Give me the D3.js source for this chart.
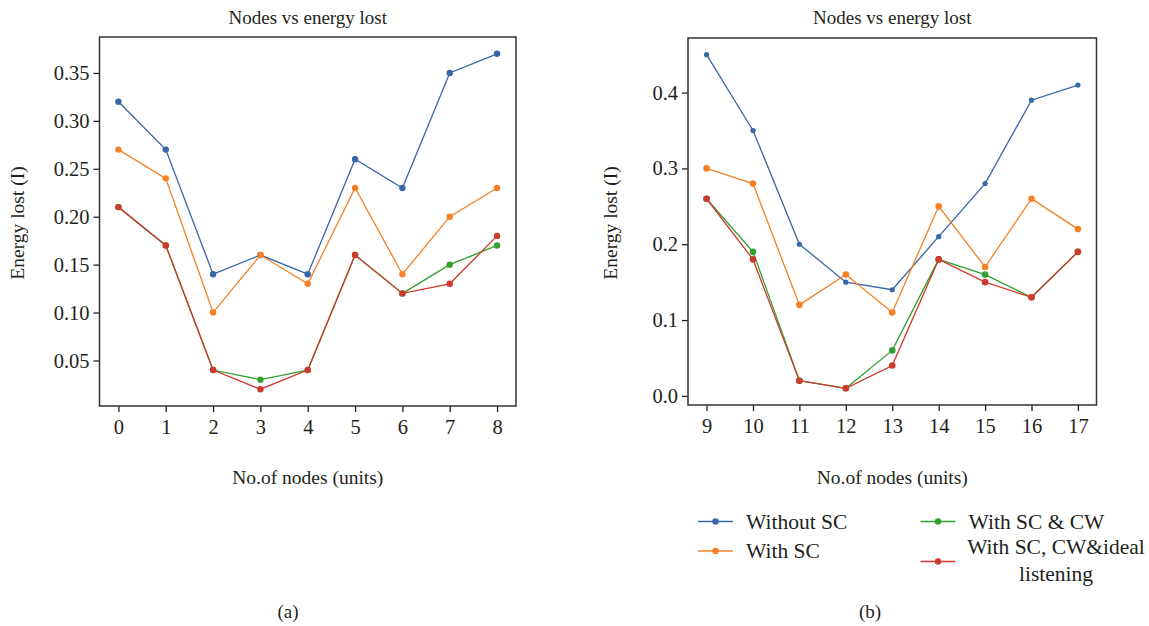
<!DOCTYPE html>
<html>
<head>
<meta charset="utf-8">
<script src="https://cdn.jsdelivr.net/npm/d3@7"></script>
<style>
  body { margin: 0; background: #fff; }
  text { font-family: "Liberation Serif", "DejaVu Serif", serif; fill: #231f20; }
</style>
</head>
<body>
<div id="chart"></div>
<script>
// Data
var nodesA = [0, 1, 2, 3, 4, 5, 6, 7, 8];
var nodesB = [9, 10, 11, 12, 13, 14, 15, 16, 17];

var withoutScA   = [0.32, 0.27, 0.14, 0.16, 0.14, 0.26, 0.23, 0.35, 0.37];
var withScA      = [0.27, 0.24, 0.10, 0.16, 0.13, 0.23, 0.14, 0.20, 0.23];
var withScCwA    = [0.21, 0.17, 0.04, 0.03, 0.04, 0.16, 0.12, 0.15, 0.17];
var withScCwIdA  = [0.21, 0.17, 0.04, 0.02, 0.04, 0.16, 0.12, 0.13, 0.18];

var withoutScB   = [0.45, 0.35, 0.20, 0.15, 0.14, 0.21, 0.28, 0.39, 0.41];
var withScB      = [0.30, 0.28, 0.12, 0.16, 0.11, 0.25, 0.17, 0.26, 0.22];
var withScCwB    = [0.26, 0.19, 0.02, 0.01, 0.06, 0.18, 0.16, 0.13, 0.19];
var withScCwIdB  = [0.26, 0.18, 0.02, 0.01, 0.04, 0.18, 0.15, 0.13, 0.19];

var yTicksA = [0.05, 0.10, 0.15, 0.20, 0.25, 0.30, 0.35];
var yTicksB = [0.0, 0.1, 0.2, 0.3, 0.4];

var seriesNames = ["Without SC", "With SC", "With SC & CW", "With SC, CW&ideal listening"];
var colors = ["#3767a6", "#f58025", "#33a02f", "#d0392d"];

var W = 1149, H = 626;
var svg = d3.select("#chart").append("svg")
    .attr("width", W)
    .attr("height", H);

function drawPanel(opts) {
    var x = d3.scaleLinear().domain(opts.xDomain).range([opts.left, opts.right]);
    var y = d3.scaleLinear().domain(opts.yDomain).range([opts.bottom, opts.top]);
    var g = svg.append("g");

    // x axis
    var xAxis = d3.axisBottom(x).tickValues(opts.nodes).tickFormat(d3.format("d"))
        .tickSize(6).tickPadding(5);
    var gx = g.append("g")
        .attr("transform", "translate(0," + opts.bottom + ")")
        .call(xAxis);
    gx.select(".domain").remove();

    var yAxis = d3.axisLeft(y).tickValues(opts.yTicks).tickFormat(d3.format(opts.yFmt))
        .tickSize(6).tickPadding(4);
    var gy = g.append("g")
        .attr("transform", "translate(" + opts.left + ",0)")
        .call(yAxis);
    gy.select(".domain").remove();

    g.selectAll(".tick line").attr("stroke", "#231f20").attr("stroke-width", 1.3);
    g.selectAll(".tick text").style("font-size", "20.5px").attr("fill", "#231f20");
    gx.selectAll(".tick text").attr("dy", "0.85em");

    // frame
    g.append("rect")
        .attr("x", opts.left).attr("y", opts.top)
        .attr("width", opts.right - opts.left)
        .attr("height", opts.bottom - opts.top)
        .attr("fill", "none")
        .attr("stroke", "#333")
        .attr("stroke-width", 1.5);

    var line = d3.line()
        .x(function(d, i) { return x(opts.nodes[i]); })
        .y(function(d) { return y(d); });

    opts.series.forEach(function(s, k) {
        g.append("path")
            .datum(s)
            .attr("fill", "none")
            .attr("stroke", colors[k])
            .attr("stroke-width", 1.3)
            .attr("d", line);
        g.selectAll(".pt" + k)
            .data(s)
            .enter().append("circle")
            .attr("cx", function(d, i) { return x(opts.nodes[i]); })
            .attr("cy", function(d) { return y(d); })
            .attr("r", opts.r[k])
            .attr("fill", colors[k]);
    });

    var cx = (opts.left + opts.right) / 2;
    g.append("text")
        .attr("x", cx).attr("y", 24)
        .attr("text-anchor", "middle")
        .style("font-size", "19px")
        .text("Nodes vs energy lost");

    g.append("text")
        .attr("x", cx).attr("y", 484)
        .attr("text-anchor", "middle")
        .style("font-size", "19.5px")
        .text("No.of nodes (units)");

    g.append("text")
        .attr("transform", "translate(" + opts.yLabelX + ",223) rotate(-90)")
        .attr("text-anchor", "middle")
        .style("font-size", "19.5px")
        .text("Energy lost (I)");

    g.append("text")
        .attr("x", opts.subX).attr("y", 618)
        .attr("text-anchor", "middle")
        .style("font-size", "19px")
        .text(opts.sub);
}

drawPanel({
    nodes: nodesA,
    series: [withoutScA, withScA, withScCwA, withScCwIdA],
    xDomain: [-0.4, 8.4], yDomain: [0.0025, 0.3875],
    left: 99.5, right: 516, top: 37, bottom: 406,
    yTicks: yTicksA, yFmt: ".2f", r: [3.2, 3.2, 3.2, 3.2],
    yLabelX: 24, sub: "(a)", subX: 288
});

drawPanel({
    nodes: nodesB,
    series: [withoutScB, withScB, withScCwB, withScCwIdB],
    xDomain: [8.6, 17.4], yDomain: [-0.012, 0.472],
    left: 688, right: 1096.5, top: 38, bottom: 405,
    yTicks: yTicksB, yFmt: ".1f", r: [2.6, 3.3, 3.3, 3.3],
    yLabelX: 617, sub: "(b)", subX: 870
});

// legend (below right panel)
var legendItems = [
    { col: 0, y: 521.5, lines: [seriesNames[0]] },
    { col: 0, y: 551, lines: [seriesNames[1]] },
    { col: 1, y: 521.5, lines: [seriesNames[2]] },
    { col: 1, y: 561.5, lines: ["With SC, CW&ideal", "listening"] }
];
var colX = [698, 920.5];
var legend = svg.append("g");
legendItems.forEach(function(it, k) {
    var x0 = colX[it.col];
    legend.append("line")
        .attr("x1", x0).attr("x2", x0 + 35)
        .attr("y1", it.y).attr("y2", it.y)
        .attr("stroke", colors[k]).attr("stroke-width", 1.3);
    legend.append("circle")
        .attr("cx", x0 + 17.5).attr("cy", it.y).attr("r", 3.2)
        .attr("fill", colors[k]);
    if (it.lines.length === 1) {
        legend.append("text")
            .attr("x", x0 + 48).attr("y", it.y + 7)
            .style("font-size", "21.5px")
            .text(it.lines[0]);
    } else {
        var t = legend.append("text")
            .attr("text-anchor", "middle")
            .style("font-size", "21.5px");
        t.append("tspan").attr("x", 1056).attr("y", it.y - 7.5).text(it.lines[0]);
        t.append("tspan").attr("x", 1056).attr("y", it.y + 19).text(it.lines[1]);
    }
});
</script>
</body>
</html>
